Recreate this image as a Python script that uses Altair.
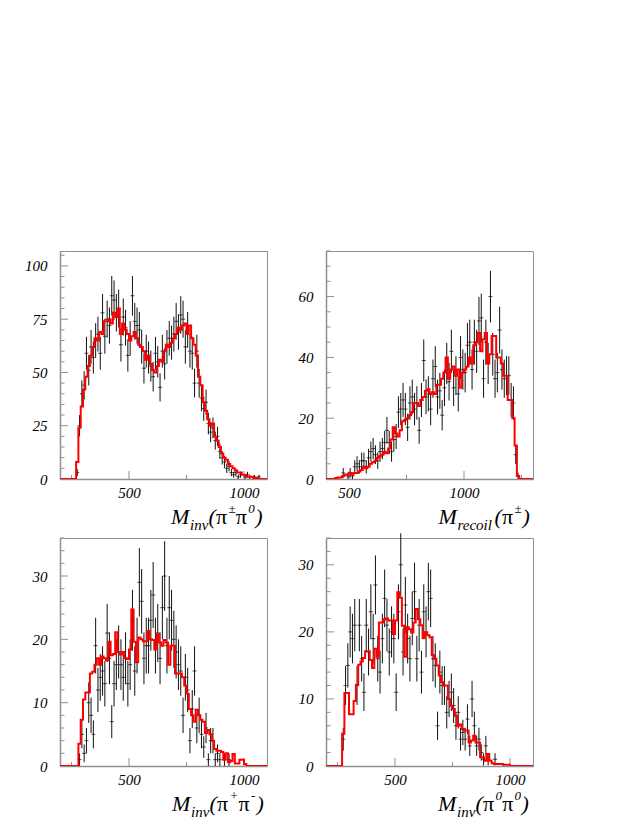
import altair as alt
import pandas as pd

BIN = 10

# ---------------- Panel 1 : M_inv(pi+- pi0) ----------------
p1_mc_start = 200
p1_mc = [0, 0, 0, 0, 0, 0, 0,
         8, 24, 34, 42, 48, 53, 58, 62, 66, 65,
         69, 68, 74, 74, 75, 73, 78, 76, 80, 68,
         73, 70, 68, 65, 67, 69, 66, 63, 62, 60,
         56, 58, 54, 51, 50, 53, 56, 55, 60, 63,
         62, 64, 66, 68, 71, 70, 72, 73, 68, 72,
         66, 63, 58, 48, 44, 36, 32, 28, 25, 26,
         20, 18, 15, 12, 10, 9, 7, 6, 5, 4,
         3, 3, 2, 2, 1, 1, 1, 0.5, 0.5, 0,
         0, 0, 0]
p1_data_start = 270
p1_data = [3, 25, 40, 44, 59, 51, 62, 57, 65, 68,
           59, 78, 67, 75, 72, 86, 84, 78, 80, 63,
           76, 71, 58, 66, 86, 74, 72, 70, 62, 52,
           60, 57, 53, 48, 59, 55, 43, 60, 54, 62,
           66, 64, 68, 74, 69, 77, 75, 62, 70, 60,
           59, 45, 60, 45, 38, 33, 36, 26, 22, 24,
           18, 20, 13, 10, 8, 5, 6, 3, 2, 3,
           1, 2, 0, 1, 2, 1, 0, 1, 0, 1,
           0]
p1_err = [1.7, 5, 6.3, 6.6, 7.7, 7.1, 7.9, 7.5, 8.1, 8.2,
          7.7, 8.8, 8.2, 8.7, 8.5, 9.3, 9.2, 8.8, 8.9, 7.9,
          8.7, 8.4, 7.6, 8.1, 9.3, 8.6, 8.5, 8.4, 7.9, 7.2,
          7.7, 7.5, 7.3, 6.9, 7.7, 7.4, 6.6, 7.7, 7.3, 7.9,
          8.1, 8, 8.2, 8.6, 8.3, 8.8, 8.7, 7.9, 8.4, 7.7,
          7.7, 6.7, 7.7, 6.7, 6.2, 5.7, 6, 5.1, 4.7, 4.9,
          4.2, 4.5, 3.6, 3.2, 2.8, 2.2, 2.4, 1.7, 1.4, 1.7,
          1, 1.4, 0, 1, 1.4, 1, 0, 1, 0, 1,
          0]

# ---------------- Panel 2 : M_recoil(pi+-) ----------------
p2_mc_start = 400
p2_mc = [0, 0, 0, 0, 0.3, 0.5, 0.5, 1, 1.5, 1.5,
         2, 1.5, 2, 2, 2.5, 3, 4, 3.5, 4, 5,
         5.5, 6, 7, 7.5, 8, 9, 8.5, 10, 13, 17,
         15, 14, 16, 19, 19.5, 20, 21, 22, 25, 25,
         24, 26, 27, 29, 29.5, 28, 28.5, 28, 31, 31,
         33, 35, 40, 33, 36, 37, 34, 36, 30, 35,
         36, 37, 40, 38, 44, 45, 48, 42, 46, 48,
         38, 41, 47, 47, 40, 40, 38, 34, 34, 26,
         26, 20, 11, 1, 0, 0, 0, 0, 0, 0]
p2_data_start = 400
p2_data = [0, 0, 0, 0, 0, 0, 0, 2, 0, 1,
           2, 1, 4, 5, 4, 6, 6, 4, 7, 9,
           10, 8, 6, 9, 10, 12, 16, 12, 9, 13,
           14, 22, 23, 26, 23, 17, 25, 27, 23, 25,
           16, 26, 39, 27, 28, 23, 33, 37, 27, 29,
           21, 30, 38, 32, 42, 30, 34, 28, 40, 36,
           35, 44, 45, 36, 45, 42, 52, 53, 33, 45,
           38, 60, 41, 33, 35, 49, 36, 33, 34, 34,
           26, 25, 8, 1, 0, 0, 0, 0, 0, 0]
p2_err = [0, 0, 0, 0, 0, 0, 0, 1.6, 0, 1.1,
          1.6, 1.1, 2.2, 2.5, 2.2, 2.7, 2.7, 2.2, 2.9, 3.3,
          3.5, 3.1, 2.7, 3.3, 3.5, 3.8, 4.4, 3.8, 3.3, 4,
          4.1, 5.2, 5.3, 5.6, 5.3, 4.5, 5.5, 5.7, 5.3, 5.5,
          4.4, 5.6, 6.9, 5.7, 5.8, 5.3, 6.3, 6.7, 5.7, 5.9,
          5, 6, 6.8, 6.2, 7.1, 6, 6.4, 5.8, 7, 6.6,
          6.5, 7.3, 7.4, 6.6, 7.4, 7.1, 7.9, 8, 6.3, 7.4,
          6.8, 8.5, 7, 6.3, 6.5, 7.7, 6.6, 6.3, 6.4, 6.4,
          5.6, 5.5, 3.1, 1.1, 0, 0, 0, 0, 0, 0]

# ---------------- Panel 3 : M_inv(pi+ pi-) ----------------
p3_mc_start = 200
p3_mc = [0, 0, 0, 0, 0, 0, 0, 0,
         3.5, 7.3, 10.5, 11.6, 11.6, 14.6, 14.9, 16, 17, 16,
         17.3, 17, 16.7, 19.6, 17.5, 17.7, 21.1, 18, 17.6, 18,
         17, 16.9, 18.4, 24.7, 19.6, 16.4, 20.3, 20, 19.7, 19.7,
         21.3, 20, 19.9, 18.4, 20.8, 19.5, 19, 19.9, 19.5, 16,
         19, 19, 14.6, 14.6, 14.6, 14, 12.7, 11.4, 9, 8,
         7, 8.9, 8, 7.3, 7, 5.2, 5.7, 5, 4, 2.7,
         2.4, 2.4, 2.2, 1, 2, 0.6, 0.8, 1.9, 0.4, 0.4,
         1, 1, 0.3,
         0, 0, 0, 0, 0, 0, 0, 0, 0]
p3_data_start = 280
p3_data = [1, 5, 2, 4, 10, 8, 5, 19, 12, 14,
           15, 13, 21, 17, 7, 13, 16, 18, 16, 14,
           17, 13, 16, 23, 15, 19, 29, 26, 17, 19,
           19, 23, 27, 19, 21, 17, 25, 30, 19, 25,
           23, 20, 18, 16, 15, 8, 14, 12, 4, 9,
           15, 6, 8, 5, 3, 6, 1, 4, 4, 1,
           2, 1, 0, 1, 0, 1, 0, 0]
p3_err = [1, 2.2, 1.4, 2, 3.2, 2.8, 2.2, 4.4, 3.5, 3.7,
          3.9, 3.6, 4.6, 4.1, 2.6, 3.6, 4, 4.2, 4, 3.7,
          4.1, 3.6, 4, 4.8, 3.9, 4.4, 5.4, 5.1, 4.1, 4.4,
          4.4, 4.8, 5.2, 4.4, 4.6, 4.1, 5, 5.5, 4.4, 5,
          4.8, 4.5, 4.2, 4, 3.9, 2.8, 3.7, 3.5, 2, 3,
          3.9, 2.4, 2.8, 2.2, 1.7, 2.4, 1, 2, 2, 1,
          1.4, 1, 0, 1, 0, 1, 0, 0]

# ---------------- Panel 4 : M_inv(pi0 pi0) ----------------
p4_mc_start = 200
p4_mc = [0, 0, 0, 0, 0, 0, 0,
         4.8, 10.9, 10.9, 7.7, 7.7, 9.7, 12.1, 15.1, 15.6, 16.1,
         17.1, 17.1, 15.8, 14.6, 17.5, 16.3, 21.4, 21.4, 21.9, 22,
         21.7, 21.7, 19.7, 21.7, 25.9, 25.1, 20.9, 16.3, 20.7, 20.4,
         19.9, 21.4, 23.4, 21.9, 21, 19.1, 19.9, 19.5, 19.2, 16.5,
         16, 15, 13.5, 12.5, 12, 12, 10, 9, 8.5, 7.5,
         6, 6.2, 5.5, 5.3, 5.3, 3.5, 3.8, 4.5, 3.5, 3.5,
         1.3, 1.3, 0.8, 1.8, 0.8, 0.4, 0.3, 0.3, 0.3, 0.3,
         0.2, 0.2, 0.2, 0,
         0, 0, 0, 0, 0, 0, 0, 0, 0]
p4_data_start = 270
p4_data = [4, 12, 15, 20, 19, 21, 12, 21, 16, 11,
           21, 17, 23, 19, 27, 16, 14, 19, 25, 21,
           17, 20, 19, 11, 23, 30, 17, 24, 19, 16,
           22, 26, 16, 21, 14, 23, 20, 26, 25, 16,
           15, 6, 14, 12, 12, 8, 10, 11, 9, 6,
           8, 4, 5, 4, 7, 3, 10, 6, 3, 4,
           2, 1, 3, 1, 0, 0, 1, 0, 0, 0,
           0, 0, 0, 0]
p4_err = [1.7, 2.9, 3.3, 3.8, 3.7, 3.9, 2.9, 3.9, 3.4, 2.8,
          3.9, 3.5, 4.1, 3.7, 4.4, 3.4, 3.2, 3.7, 4.3, 3.9,
          3.5, 3.8, 3.7, 2.8, 4.1, 4.7, 3.5, 4.2, 3.7, 3.4,
          4, 4.3, 3.4, 3.9, 3.2, 4.1, 3.8, 4.3, 4.3, 3.4,
          3.3, 2.1, 3.2, 2.9, 2.9, 2.4, 2.7, 2.8, 2.6, 2.1,
          2.4, 1.7, 1.9, 1.7, 2.2, 1.5, 2.7, 2.1, 1.5, 1.7,
          1.2, 0.9, 1.5, 0.9, 0, 0, 0.9, 0, 0, 0,
          0, 0, 0, 0]

# axis tick values
p1_ymajor = [0, 25, 50, 75, 100]
p2_ymajor = [0, 20, 40, 60]
p3_ymajor = [0, 10, 20, 30]
p4_ymajor = [0, 10, 20, 30]

# axis title pieces: (text, x offset from frame left, kind)
p1_title = [("M", 111, "main"), ("inv", 130, "sub"), ("(", 148.6, "main"), ("π", 156, "main"),
            ("±", 168.4, "sup"), ("π", 175.8, "main"), ("0", 188.2, "sup"), (")", 195.2, "main")]
p2_title = [("M", 112.5, "main"), ("recoil", 131.5, "sub"), ("(", 168.5, "main"), ("π", 176, "main"),
            ("±", 188.4, "sup"), (")", 196.5, "main")]
p3_title = [("M", 112, "main"), ("inv", 131, "sub"), ("(", 149.6, "main"), ("π", 157, "main"),
            ("+", 169.4, "sup"), ("π", 178.6, "main"), ("-", 191, "sup"), (")", 196.5, "main")]
p4_title = [("M", 112, "main"), ("inv", 131, "sub"), ("(", 149.6, "main"), ("π", 157, "main"),
            ("0", 169.4, "sup"), ("π", 176.2, "main"), ("0", 188.6, "sup"), (")", 195.6, "main")]

GRAY = "#8f8f8f"
SERIF = "Liberation Serif"
W, H = 207, 228


def make_panel(mc_start, mc, d_start, dv, de, xdom, ydom, ymaj, yminor_step,
               xmaj, xmin, parts):
    xs = alt.Scale(domain=xdom, nice=False, zero=False)
    ys = alt.Scale(domain=ydom, nice=False, zero=False)
    xax = alt.Axis(values=xmaj, title=None, format="d")
    yax = alt.Axis(values=ymaj, title=None, format="d")

    def X(f):
        return alt.X(f, type="quantitative", scale=xs, axis=xax)

    def Y(f):
        return alt.Y(f, type="quantitative", scale=ys, axis=yax)

    edges = [mc_start + BIN * i for i in range(len(mc) + 1)]
    mc_df = pd.DataFrame({"x": edges, "y": list(mc) + [mc[-1]]})

    centers = [d_start + BIN * i + BIN / 2 for i in range(len(dv))]
    dd = pd.DataFrame({"xc": centers, "v": dv, "e": de})
    dd = dd[dd["v"] > 0].copy()
    dd["lo"] = (dd["v"] - dd["e"]).clip(lower=0)
    dd["hi"] = dd["v"] + dd["e"]

    errbars = alt.Chart(dd).mark_rule(color="#111111", strokeWidth=1).encode(
        x=X("xc"), y=Y("lo"), y2="hi")
    centers_mk = alt.Chart(dd).mark_tick(orient="horizontal", size=4, thickness=1,
                                         color="#000000").encode(x=X("xc"), y=Y("v"))
    mc_line = alt.Chart(mc_df).mark_line(interpolate="step-after", color="#ff0000",
                                         strokeWidth=2, clip=True).encode(x=X("x"), y=Y("y"))

    ymin_vals = [v for v in range(0, int(ydom[1]) + 1, yminor_step) if v not in ymaj]
    ytick_maj = alt.Chart(pd.DataFrame({"t": ymaj})).mark_rule(color=GRAY, strokeWidth=1).encode(
        y=Y("t"), x=alt.value(0), x2=alt.value(8))
    ytick_min = alt.Chart(pd.DataFrame({"t": ymin_vals})).mark_rule(color=GRAY, strokeWidth=1).encode(
        y=Y("t"), x=alt.value(0), x2=alt.value(4.5))
    xtick_maj = alt.Chart(pd.DataFrame({"t": xmaj})).mark_rule(color=GRAY, strokeWidth=1).encode(
        x=X("t"), y=alt.value(H), y2=alt.value(H - 8))
    xtick_min = alt.Chart(pd.DataFrame({"t": xmin})).mark_rule(color=GRAY, strokeWidth=1).encode(
        x=X("t"), y=alt.value(H), y2=alt.value(H - 4))

    layers = [ytick_maj, ytick_min, xtick_maj, xtick_min, errbars, centers_mk, mc_line]

    sizes = {"main": 22, "sub": 15, "sup": 13}
    ypos = {"main": H + 45, "sub": H + 50.5, "sup": H + 33.5}
    for text, px, kind in parts:
        style = "normal" if text == "π" else "italic"
        layers.append(
            alt.Chart(pd.DataFrame({"a": [0]})).mark_text(
                text=text, font=SERIF, fontSize=sizes[kind], fontStyle=style,
                align="left", baseline="alphabetic", color="black"
            ).encode(x=alt.value(px), y=alt.value(ypos[kind]))
        )
    return alt.layer(*layers).properties(width=W, height=H)


p1 = make_panel(p1_mc_start, p1_mc, p1_data_start, p1_data, p1_err, [200, 1100], [0, 107],
                p1_ymajor, 5, [500, 1000], [250, 750], p1_title)
p2 = make_panel(p2_mc_start, p2_mc, p2_data_start, p2_data, p2_err, [400, 1300], [0, 75],
                p2_ymajor, 5, [500, 1000], [750, 1250], p2_title)
p3 = make_panel(p3_mc_start, p3_mc, p3_data_start, p3_data, p3_err, [200, 1100], [0, 36],
                p3_ymajor, 2, [500, 1000], [250, 750], p3_title)
p4 = make_panel(p4_mc_start, p4_mc, p4_data_start, p4_data, p4_err, [200, 1100], [0, 34],
                p4_ymajor, 2, [500, 1000], [250, 750], p4_title)

chart = alt.concat(p1, p2, p3, p4, columns=2, spacing=59, bounds="flush").properties(
    padding={"left": 16, "top": 242, "right": 5, "bottom": 5}
).configure_view(
    stroke=GRAY, strokeWidth=1
).configure_axis(
    grid=False, ticks=False, domain=True, domainColor=GRAY, domainWidth=1.5,
    labelFont=SERIF, labelFontStyle="italic", labelFontSize=15, labelColor="black",
    labelFlush=False
).configure_axisY(
    labelPadding=13
).configure_axisX(
    labelPadding=6
)

chart.save("out.html", embed_options={"renderer": "svg", "actions": False})
